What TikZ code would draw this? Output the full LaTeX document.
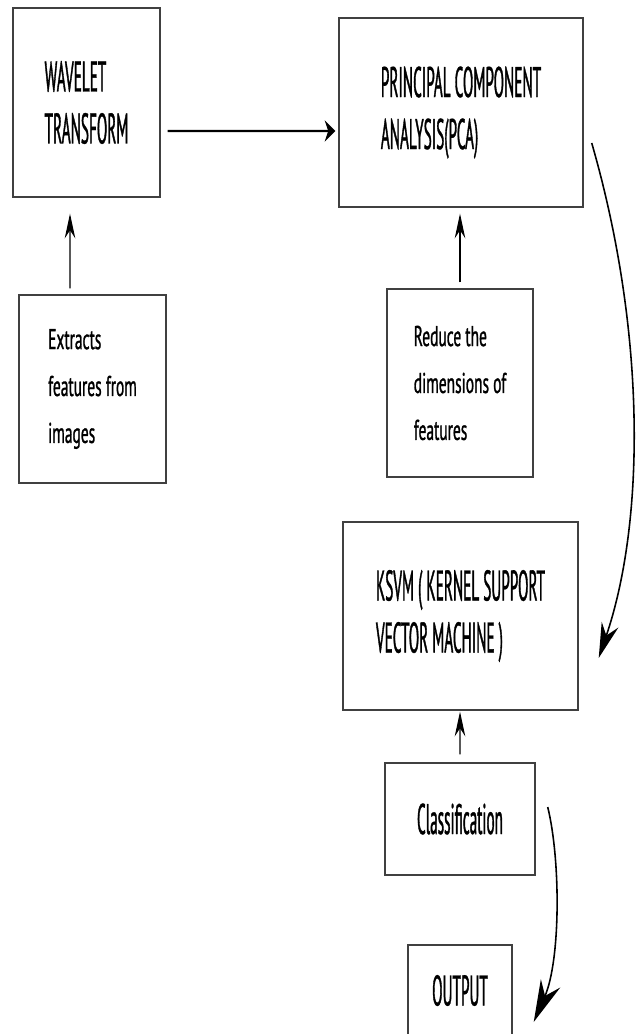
\documentclass[tikz,border=0pt]{standalone}
\usepackage{fontspec}
\usepackage{tikz}
\usetikzlibrary{arrows.meta}
\newfontfamily\tallfont{PT Sans}[FakeStretch=0.355, FakeBold=0.8]
\newfontfamily\shortfont{PT Sans}[FakeStretch=0.54, FakeBold=0.9]

\begin{document}
\begin{tikzpicture}[
    box/.style={draw=black!75, line width=0.8pt, align=left, inner sep=0pt},
    tall/.style={font=\tallfont\fontsize{24.4pt}{29.6pt}\selectfont},
    short/.style={font=\shortfont\fontsize{16.3pt}{26.7pt}\selectfont},
    thinarrow/.style={-{Stealth[length=14pt,width=6pt]}, line width=0.6pt},
    flatarrow/.style={-{Stealth[length=6pt,width=12pt]}, line width=1.2pt},
    bendarrow/.style={line width=0.9pt}]

        \useasboundingbox[fill=white] (0,0) rectangle (12.74,-20.68);

        \coordinate (Wav) at (1.73,-2.05);
        \coordinate (Pca) at (9.22,-2.25);
        \coordinate (Ext) at (1.85,-7.78);
        \coordinate (Red) at (9.20,-7.66);
        \coordinate (Ksvm) at (9.21,-12.32);
        \coordinate (Cls) at (9.20,-16.38);
        \coordinate (Out) at (9.20,-19.81);

        % boxes
        \node[box, tall, minimum width=2.94cm, minimum height=3.78cm] (wavelet) at (Wav)
          {WAVELET\\TRANSFORM};
        \node[box, tall, minimum width=4.88cm, minimum height=3.78cm] (pca) at (Pca)
          {PRINCIPAL COMPONENT\\ANALYSIS(PCA)};
        \node[box, short, minimum width=2.94cm, minimum height=3.76cm] (extract) at (Ext)
          {Extracts\\features from\\images};
        \node[box, short, minimum width=2.92cm, minimum height=3.76cm] (reduce) at (Red)
          {Reduce the\\dimensions of\\features};
        \node[box, tall, minimum width=4.70cm, minimum height=3.76cm] (ksvm) at (Ksvm)
          {KSVM ( KERNEL SUPPORT\\VECTOR MACHINE )};
        \node[box, tall, minimum width=3.00cm, minimum height=2.24cm] (classify) at (Cls)
          {Classification};
        \node[box, tall, minimum width=2.08cm, minimum height=1.82cm] (output) at (Out)
          {OUTPUT};

        % straight arrows
        \draw[flatarrow] ([shift={(0.14,-0.57)}]wavelet.east) -- ([shift={(-0.06,-0.37)}]pca.west);
        \draw[thinarrow] ([shift={(-0.45,0.12)}]extract.north) -- ([shift={(-0.33,-0.32)}]wavelet.south);
        \draw[thinarrow] ([shift={(0,0.12)}]reduce.north) -- ([shift={(-0.02,-0.12)}]pca.south);
        \draw[thinarrow] ([shift={(0,0.16)}]classify.north) -- ([shift={(-0.01,-0.02)}]ksvm.south);

        % curved arrows
        \draw[bendarrow, -{Stealth[length=20pt,width=10pt]}] ([shift={(0.16,-0.61)}]pca.east)
          .. controls +(1.08,-3.74) and +(0.94,2.76) .. ([shift={(0.40,-0.84)}]ksvm.east);
        \draw[bendarrow, -{Stealth[length=24pt,width=12pt]}] ([shift={(0.24,0.24)}]classify.east)
          .. controls +(0.26,-1.06) and +(0.54,1.24) .. ([shift={(0.42,-0.63)}]output.east);
      \end{tikzpicture}
\end{document}
